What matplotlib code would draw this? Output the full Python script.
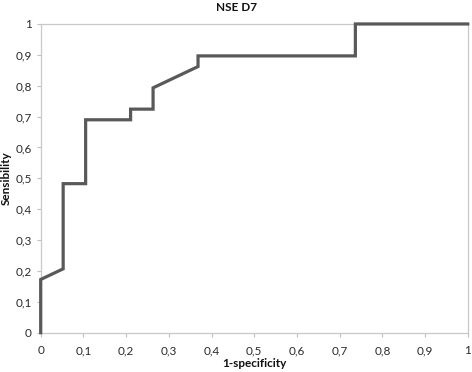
import matplotlib
matplotlib.use("Agg")
import matplotlib.pyplot as plt
from matplotlib.ticker import FuncFormatter

plt.rcParams['font.family'] = ['Lato', 'DejaVu Sans']

# ROC curve points (1-specificity, sensibility)
fpr = [0, 0, 1/19, 1/19, 2/19, 2/19, 4/19, 4/19, 5/19, 5/19, 7/19, 7/19, 14/19, 14/19, 1]
tpr = [0, 5/29, 6/29, 14/29, 14/29, 20/29, 20/29, 21/29, 21/29, 23/29, 25/29, 26/29, 26/29, 1, 1]
ticks = [i / 10 for i in range(11)]

fig = plt.figure(figsize=(4.72, 3.72), dpi=100)
ax = fig.add_axes([0.0862, 0.1056, 0.9048, 0.8300])

ax.plot(fpr, tpr, color='#595959', lw=2.3, solid_joinstyle='miter', clip_on=False, zorder=3)

ax.set_xlim(0, 1)
ax.set_ylim(0, 1)
ax.set_xticks(ticks)
ax.set_yticks(ticks)
fmt = FuncFormatter(lambda v, p: ('%g' % round(v, 1)).replace('.', ','))
ax.xaxis.set_major_formatter(fmt)
ax.yaxis.set_major_formatter(fmt)
ax.tick_params(direction='out', length=3, width=0.8, color='#bfbfbf',
               labelsize=8.5, labelcolor='#2b2b2b')
ax.tick_params(axis='x', pad=6)
ax.tick_params(axis='y', pad=3.5)
for s in ax.spines.values():
    s.set_color('#c8c8c8')
    s.set_linewidth(0.9)

fig.text(0.5, 1 - 7.5 / 372, 'NSE D7', ha='center', va='center', fontsize=8.5, fontweight='bold', color='#111111')
ax.set_xlabel('1-specificity', fontsize=8.5, fontweight='bold', color='#111111')
ax.set_ylabel('Sensibility', fontsize=8.5, fontweight='bold', color='#111111')
ax.xaxis.set_label_coords(0.5, -31 / 308.7)
ax.yaxis.set_label_coords(-34 / 427, 0.5)
ax.xaxis.label.set_va('center')
ax.yaxis.label.set_va('center')

fig.savefig('out.png', dpi=100)
